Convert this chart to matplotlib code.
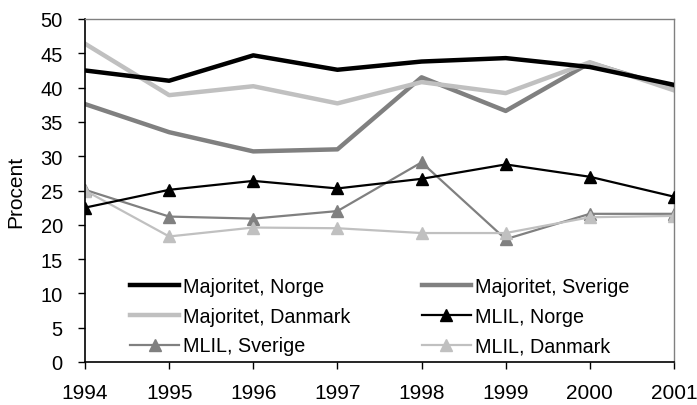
import matplotlib
matplotlib.use("Agg")
import matplotlib.pyplot as plt

years = ["1994", "1995", "1996", "1997", "1998", "1999", "2000", "2001"]
maj_norge = [42.5, 41.0, 44.7, 42.6, 43.8, 44.3, 43.0, 40.4]
maj_sverige = [37.6, 33.5, 30.7, 31.0, 41.5, 36.6, 43.6, 39.9]
maj_danmark = [46.4, 38.9, 40.2, 37.7, 40.8, 39.2, 43.7, 39.6]
mlil_norge = [22.5, 25.1, 26.4, 25.3, 26.7, 28.8, 27.0, 24.1]
mlil_sverige = [25.1, 21.2, 20.9, 22.0, 29.1, 17.9, 21.6, 21.6]
mlil_danmark = [25.0, 18.3, 19.6, 19.5, 18.8, 18.8, 21.1, 21.3]
yticks = [0, 5, 10, 15, 20, 25, 30, 35, 40, 45, 50]

plt.rcParams['font.family'] = ['Liberation Sans', 'DejaVu Sans']

fig = plt.figure(figsize=(6.97, 4.06), dpi=100)
ax = fig.add_axes([85/697, 1 - 363/406, (674-85)/697, (363-20)/406])

x = list(range(len(years)))
black, grey, light = "#000000", "#808080", "#c0c0c0"
l1, = ax.plot(x, maj_norge, color=black, lw=3.2, label="Majoritet, Norge", zorder=3)
l2, = ax.plot(x, maj_sverige, color=grey, lw=3.2, label="Majoritet, Sverige", zorder=2)
l3, = ax.plot(x, maj_danmark, color=light, lw=3.2, label="Majoritet, Danmark", zorder=2.5)
l4, = ax.plot(x, mlil_norge, color=black, lw=1.6, marker="^", ms=9, label="MLIL, Norge", zorder=3)
l5, = ax.plot(x, mlil_sverige, color=grey, lw=1.6, marker="^", ms=9, label="MLIL, Sverige", zorder=2)
l6, = ax.plot(x, mlil_danmark, color=light, lw=1.6, marker="^", ms=9, label="MLIL, Danmark", zorder=2.5)

ax.set_xlim(0, len(years) - 1)
ax.set_ylim(0, 50)
ax.set_xticks(x)
ax.set_xticklabels(years, fontsize=15)
ax.set_yticks(yticks)
ax.set_yticklabels([str(v) for v in yticks], fontsize=14.5)
ax.tick_params(axis='both', direction='out', length=5, width=1, color="#000000")
ax.tick_params(axis='x', pad=10)
ax.tick_params(axis='y', pad=11)
ax.set_ylabel("Procent", fontsize=15)
ax.yaxis.set_label_coords((25 - 85) / 589, 0.5)

for s in ["top", "right"]:
    ax.spines[s].set_color("#808080")
    ax.spines[s].set_linewidth(1)
for s in ["left", "bottom"]:
    ax.spines[s].set_color("#000000")
    ax.spines[s].set_linewidth(1.2)

leg = ax.legend([l1, l3, l5, l2, l4, l6],
                [l1.get_label(), l3.get_label(), l5.get_label(),
                 l2.get_label(), l4.get_label(), l6.get_label()],
                ncol=2, frameon=False, fontsize=14.2, loc="lower left",
                bbox_to_anchor=((130 - 85) / 589, 6.5 / 343), borderaxespad=0,
                borderpad=0, handlelength=2.5, handletextpad=0.2,
                columnspacing=3.6, labelspacing=0.55)

fig.savefig("out.png", dpi=100)
